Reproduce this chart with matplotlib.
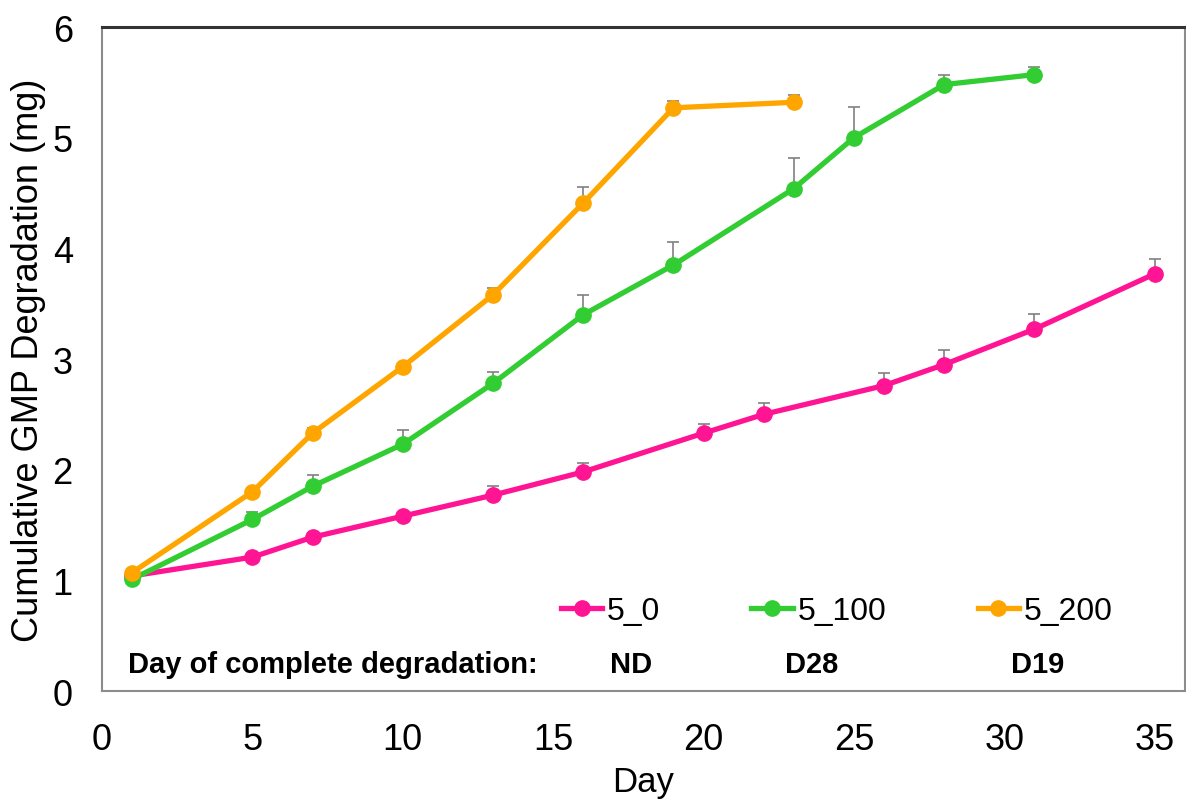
import matplotlib
matplotlib.use("Agg")
import matplotlib.pyplot as plt
import numpy as np

plt.rcParams['font.family'] = ['Liberation Sans', 'DejaVu Sans']

# data
days_0 = [1, 5, 7, 10, 13, 16, 20, 22, 26, 28, 31, 35]
deg_0 = [1.04, 1.21, 1.39, 1.58, 1.77, 1.98, 2.33, 2.50, 2.76, 2.95, 3.27, 3.77]
err_0 = [0.0, 0.0, 0.0, 0.0, 0.08, 0.08, 0.08, 0.10, 0.11, 0.13, 0.14, 0.13]

days_100 = [1, 5, 7, 10, 13, 16, 19, 23, 25, 28, 31]
deg_100 = [1.01, 1.55, 1.85, 2.23, 2.78, 3.40, 3.85, 4.54, 5.00, 5.48, 5.57]
err_100 = [0.0, 0.07, 0.10, 0.13, 0.10, 0.18, 0.21, 0.28, 0.28, 0.09, 0.07]

days_200 = [1, 5, 7, 10, 13, 16, 19, 23]
deg_200 = [1.07, 1.80, 2.33, 2.93, 3.58, 4.41, 5.27, 5.32]
err_200 = [0.0, 0.0, 0.05, 0.0, 0.06, 0.14, 0.06, 0.07]

labels = ["5_0", "5_100", "5_200"]
colors = ["#FF1493", "#32CD32", "#FFA500"]
complete_day = ["ND", "D28", "D19"]
note_x = [17.6, 23.6, 31.1]

fig = plt.figure(figsize=(11.86, 8.03), dpi=100)
ax = fig.add_axes([0.086, 0.1382, 0.913, 0.8269])

series = [(days_0, deg_0, err_0), (days_100, deg_100, err_100), (days_200, deg_200, err_200)]
handles = []
for (x, y, e), lab, col in zip(series, labels, colors):
    y = np.array(y)
    e = np.array(e)
    ax.errorbar(x, y, yerr=[np.zeros_like(e), e], fmt="none", ecolor="#808080",
                elinewidth=1.2, capsize=4, capthick=1.2, zorder=2)
    h, = ax.plot(x, y, color=col, lw=3.8, marker="o", ms=11, label=lab, zorder=3)
    handles.append(h)

ax.set_xlim(0, 36)
ax.set_ylim(0, 6)
ax.set_xticks(range(0, 36, 5))
ax.set_yticks(range(0, 7))
ax.tick_params(length=0, labelsize=26)
ax.tick_params(axis="x", pad=22)
ax.tick_params(axis="y", pad=21)
ax.set_xlabel("Day", fontsize=25, labelpad=6)
ax.set_ylabel("Cumulative GMP Degradation (mg)", fontsize=26, labelpad=5)

for s in ["left", "right", "bottom"]:
    ax.spines[s].set_color("#8c8c8c")
    ax.spines[s].set_linewidth(1.5)
ax.spines["top"].set_color("#333333")
ax.spines["top"].set_linewidth(2.2)

leg = ax.legend(handles=handles, loc="center left", bbox_to_anchor=(0.409, 0.12),
                ncol=3, frameon=False, fontsize=23, handlelength=1.3,
                handletextpad=0.15, columnspacing=2.85, borderpad=0)

ax.text(0.024, 0.04, "Day of complete degradation:", transform=ax.transAxes,
        fontsize=21, fontweight="bold", va="center", ha="left")
for xx, t in zip(note_x, complete_day):
    ax.text(xx, 0.04, t, transform=ax.get_xaxis_transform(), fontsize=21,
            fontweight="bold", va="center", ha="center")

fig.savefig("out.png", dpi=100)
